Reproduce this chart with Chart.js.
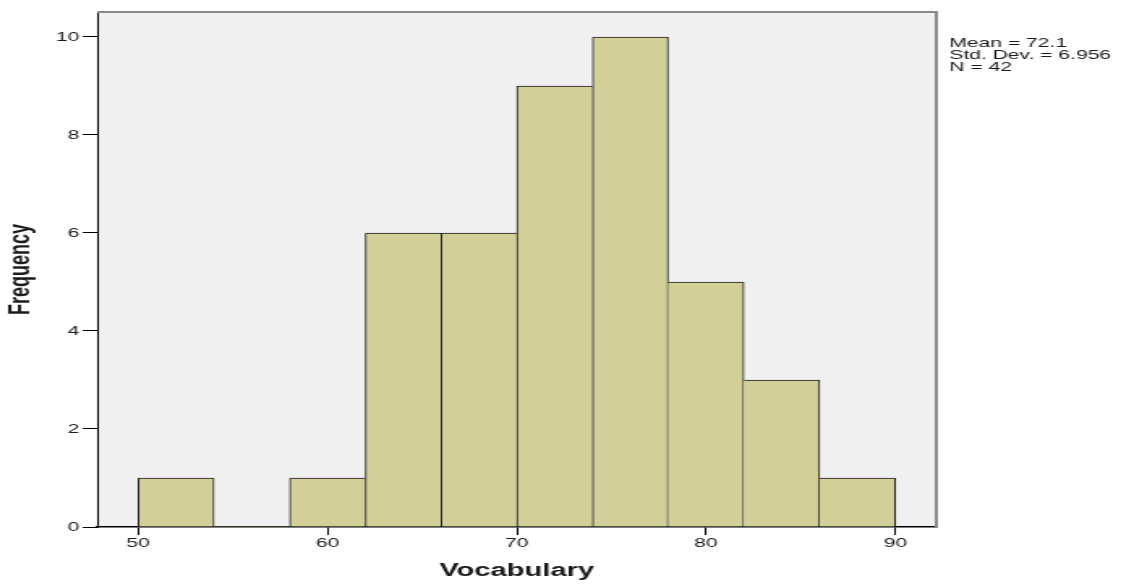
<!DOCTYPE html>
<html>
<head>
<meta charset="utf-8">
<title>Vocabulary histogram</title>
<script src="https://cdn.jsdelivr.net/npm/chart.js@4.4.1/dist/chart.umd.min.js"></script>
<style>
  html, body { margin: 0; padding: 0; background: #fff; }
  #histChart { display: block; }
</style>
</head>
<body>
<!-- the canvas is drawn narrow and shown wide, like the stretched original -->
<canvas id="histChart" width="700" height="584" style="width: 1134px; height: 584px;"></canvas>
<script>
// Data histogram (bin width 4, bins from 50 to 90)
const binCenters = [52, 56, 60, 64, 68, 72, 76, 80, 84, 88];
const frequencies = [1, 0, 1, 6, 6, 9, 10, 5, 3, 1];
const xTicks = [50, 60, 70, 80, 90];
const yTicks = [0, 2, 4, 6, 8, 10];
const statsLines = ["Mean = 72.1", "Std. Dev. = 6.956", "N = 42"];

const textColor = "#1a1a1a";
const fontName = "'Liberation Sans', Arial, sans-serif";

// Plugin: plot background, top/right frame, and the stats box text
const plotFrame = {
  id: "plotFrame",
  beforeDraw(chart) {
    const { ctx, chartArea: a } = chart;
    ctx.save();
    ctx.fillStyle = "#f0f0f0";
    ctx.fillRect(a.left, a.top, a.right - a.left, a.bottom - a.top);
    ctx.restore();
  },
  afterDraw(chart) {
    const { ctx, chartArea: a } = chart;
    ctx.save();
    ctx.strokeStyle = "#8a8a8a";
    ctx.lineWidth = 2;
    ctx.beginPath();
    ctx.moveTo(a.left, a.top);
    ctx.lineTo(a.right, a.top);
    ctx.lineTo(a.right, a.bottom);
    ctx.stroke();

    ctx.fillStyle = textColor;
    ctx.font = "13px " + fontName;
    ctx.textBaseline = "alphabetic";
    statsLines.forEach((line, i) => {
      ctx.fillText(line, a.right + 8, 46.5 + i * 12.3);
    });
    ctx.restore();
  },
};

// one divider between touching bars: the taller bar draws the shared edge
const barBorder = (c) => {
  const i = c.dataIndex;
  const cur = frequencies[i];
  const prev = frequencies[i - 1] || 0;
  const next = frequencies[i + 1] || 0;
  return { top: 1, bottom: 0, left: prev > cur ? 0 : 1, right: next < cur ? 1 : 0 };
};

const ctx = document.getElementById("histChart").getContext("2d");

const histChart = new Chart(ctx, {
  type: "bar",
  data: {
    datasets: [
      {
        data: binCenters.map((x, i) => ({ x: x, y: frequencies[i] })),
        backgroundColor: "#d3cf99",
        borderColor: "#1e1e1e",
        borderWidth: barBorder,
        borderSkipped: false,
        barPercentage: 1,
        categoryPercentage: 1,
      },
    ],
  },
  options: {
    responsive: false,
    animation: false,
    devicePixelRatio: 1,
    layout: { padding: { left: 0, right: 122, top: 12, bottom: 0 } },
    plugins: {
      legend: { display: false },
      tooltip: { enabled: false },
    },
    scales: {
      x: {
        type: "linear",
        min: 47.83,
        max: 92.17,
        offset: false,
        afterBuildTicks: (scale) => {
          scale.ticks = xTicks.map((v) => ({ value: v }));
        },
        afterFit: (scale) => {
          scale.height = 57;
        },
        grid: {
          offset: false,
          drawOnChartArea: false,
          drawTicks: true,
          tickLength: 8,
          color: "#000",
        },
        border: { display: true, color: "#000", width: 1.5 },
        ticks: {
          color: textColor,
          font: { family: fontName, size: 13 },
          padding: 1,
          maxRotation: 0,
        },
        title: {
          display: true,
          text: "Vocabulary",
          color: textColor,
          font: { family: fontName, size: 18, weight: "bold" },
          padding: { top: 0, bottom: 2 },
        },
      },
      y: {
        min: 0,
        max: 10.51,
        afterBuildTicks: (scale) => {
          scale.ticks = yTicks.map((v) => ({ value: v }));
        },
        afterFit: (scale) => {
          scale.width = 60;
        },
        grid: {
          drawOnChartArea: false,
          drawTicks: true,
          tickLength: 9,
          color: "#000",
        },
        border: { display: true, color: "#000", width: 1 },
        ticks: {
          color: textColor,
          font: { family: fontName, size: 13 },
          padding: 2,
        },
        title: {
          display: true,
          text: "Frequency",
          color: textColor,
          font: { family: fontName, size: 18, weight: "bold" },
          padding: { top: 2, bottom: 0 },
        },
      },
    },
  },
  plugins: [plotFrame],
});
</script>
</body>
</html>
